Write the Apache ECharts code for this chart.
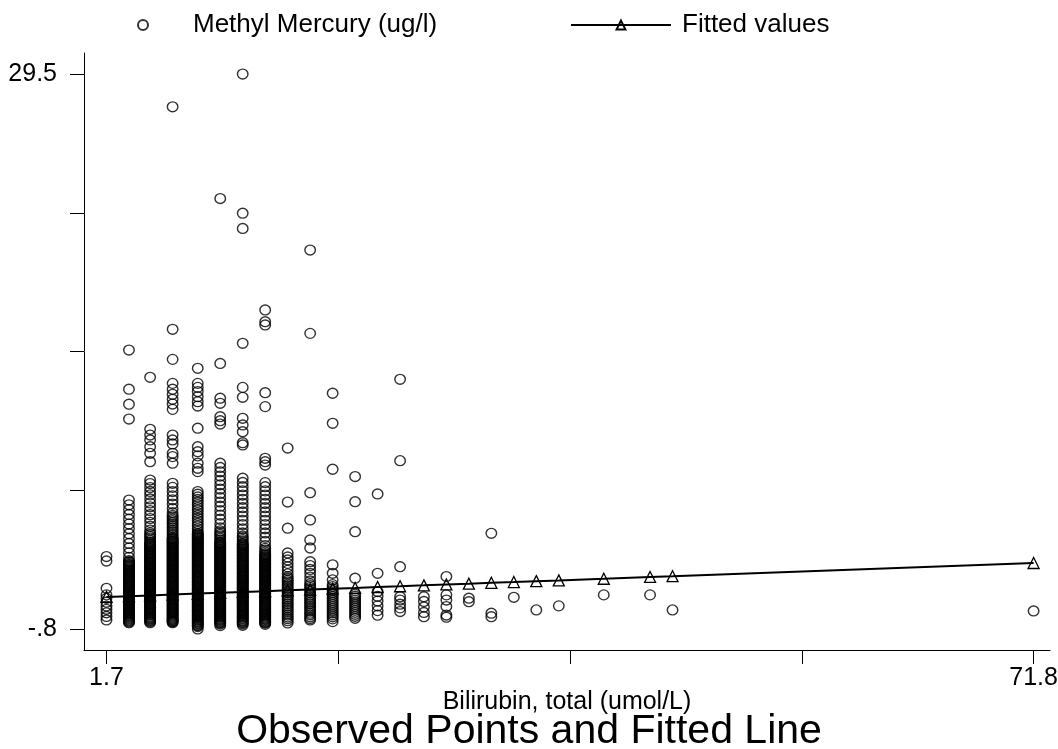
<!DOCTYPE html>
<html>
<head>
<meta charset="utf-8">
<title>Observed Points and Fitted Line</title>
<script src="https://cdn.jsdelivr.net/npm/echarts@6/dist/echarts.min.js"></script>
<style>
  html, body { margin: 0; padding: 0; background: #fff; }
  #chart { width: 1058px; height: 749px; }
</style>
</head>
<body>
<div id="chart"></div>
<script>
// Total bilirubin levels (umol/L) present in the sample
const bilirubinLevels = [1.7, 3.4, 5.0, 6.7, 8.6, 10.3, 12.0, 13.7, 15.4, 17.1, 18.8, 20.5, 22.2,
  23.9, 25.7, 27.4, 29.1, 30.8, 32.5, 34.2, 35.9, 39.3, 42.8, 44.5, 71.8];

// Methyl mercury (ug/l) observed at each bilirubin level
const mercuryAt1_7 = [3.15, 2.91, 1.42, 1.06, 0.87, 0.66, 0.45, 0.27, 0.08, -0.12, -0.31];
const mercuryAt3_4 = [14.43, 12.29, 11.47, 10.66,
  6.24, 5.98, 5.71, 5.45, 5.19, 4.93, 4.68, 4.40, 4.14, 3.87, 3.62, 3.36, 3.11,
  2.93, 2.84, 2.73, 2.64, 2.53, 2.44, 2.33, 2.24, 2.13, 2.04, 1.93, 1.84, 1.73, 1.64, 1.53,
  1.44, 1.33, 1.24, 1.13, 1.04, 0.93, 0.84, 0.73, 0.64, 0.53, 0.44, 0.33, 0.24, 0.13, 0.04,
  -0.07, -0.16, -0.27, -0.36, -0.46,
  2.88, 2.78, 2.68, 2.58, 2.48, 2.38, 2.28, 2.18, 2.08, 1.98, 1.88, 1.78, 1.68, 1.58, 1.48,
  1.38, 1.28, 1.18, 1.08, 0.98, 0.88, 0.78, 0.68, 0.58, 0.48, 0.38, 0.28, 0.18, 0.08, -0.02,
  -0.12, -0.22, -0.32, -0.42];
const mercuryAt5_0 = [12.94, 10.10, 9.79, 9.52, 9.15, 8.79, 8.33,
  7.33, 7.14, 6.92, 6.71, 6.52, 6.30, 6.08, 5.87, 5.66, 5.44, 5.23, 5.02, 4.81, 4.60,
  4.45, 4.36, 4.25, 4.16, 4.05, 3.96, 3.85, 3.76, 3.65, 3.56, 3.45, 3.36, 3.25, 3.16, 3.05,
  2.96, 2.85, 2.76, 2.65, 2.56, 2.45, 2.36, 2.25, 2.16, 2.05, 1.96, 1.85, 1.76, 1.65, 1.56,
  1.45, 1.36, 1.25, 1.16, 1.05, 0.96, 0.85, 0.76, 0.65, 0.56, 0.45, 0.36, 0.25, 0.16, 0.05,
  -0.04, -0.15, -0.24, -0.35, -0.46,
  3.90, 3.80, 3.70, 3.60, 3.50, 3.40, 3.30, 3.20, 3.10, 3.00, 2.90, 2.80, 2.70, 2.60, 2.50,
  2.40, 2.30, 2.20, 2.10, 2.00, 1.90, 1.80, 1.70, 1.60, 1.50, 1.40, 1.30, 1.20, 1.10, 1.00,
  0.90, 0.80, 0.70, 0.60, 0.50, 0.40, 0.30, 0.20, 0.10, 0.00, -0.10, -0.20, -0.30, -0.40];
const mercuryAt6_7 = [27.71, 15.56, 13.92, 12.61, 12.29, 12.01, 11.74, 11.48, 11.19, 9.79, 9.52,
  9.30, 8.79, 8.61, 8.25,
  7.15, 6.93, 6.70, 6.47, 6.25, 6.02, 5.78, 5.55,
  5.40, 5.31, 5.20, 5.11, 5.00, 4.91, 4.80, 4.71, 4.60, 4.51, 4.40, 4.31, 4.20, 4.11, 4.00,
  3.91, 3.80, 3.71, 3.60, 3.51, 3.40, 3.31, 3.20, 3.11, 3.00, 2.91, 2.80, 2.71, 2.60, 2.51,
  2.40, 2.31, 2.20, 2.11, 2.00, 1.91, 1.80, 1.71, 1.60, 1.51, 1.40, 1.31, 1.20, 1.11, 1.00,
  0.91, 0.80, 0.71, 0.60, 0.51, 0.40, 0.31, 0.20, 0.11, 0.00, -0.09, -0.20, -0.29, -0.38, -0.46,
  4.15, 4.05, 3.95, 3.85, 3.75, 3.65, 3.55, 3.45, 3.35, 3.25, 3.15, 3.05, 2.95, 2.85, 2.75,
  2.65, 2.55, 2.45, 2.35, 2.25, 2.15, 2.05, 1.95, 1.85, 1.75, 1.65, 1.55, 1.45, 1.35, 1.25,
  1.15, 1.05, 0.95, 0.85, 0.75, 0.65, 0.55, 0.45, 0.35, 0.25, 0.15, 0.05, -0.05, -0.15, -0.25,
  -0.34, -0.41];
const mercuryAt8_6 = [13.43, 12.61, 12.39, 12.16, 11.88, 11.61, 11.37, 10.16, 9.15, 8.88, 8.65,
  8.25, 7.97, 7.79,
  6.70, 6.56, 6.41, 6.27, 6.12, 5.98, 5.83, 5.69, 5.54, 5.40, 5.25, 5.11, 4.96, 4.82, 4.67, 4.53,
  4.42, 4.33, 4.22, 4.13, 4.02, 3.93, 3.82, 3.73, 3.62, 3.53, 3.42, 3.33, 3.22, 3.13, 3.02,
  2.93, 2.82, 2.73, 2.62, 2.53, 2.42, 2.33, 2.22, 2.13, 2.02, 1.93, 1.82, 1.73, 1.62, 1.53,
  1.42, 1.33, 1.22, 1.13, 1.02, 0.93, 0.82, 0.73, 0.62, 0.53, 0.42, 0.33, 0.22, 0.13, 0.02,
  -0.07, -0.18, -0.27, -0.38, -0.47, -0.58, -0.67, -0.80,
  4.38, 4.28, 4.18, 4.08, 3.98, 3.88, 3.78, 3.68, 3.58, 3.48, 3.38, 3.28, 3.18, 3.08, 2.98,
  2.88, 2.78, 2.68, 2.58, 2.48, 2.38, 2.28, 2.18, 2.08, 1.98, 1.88, 1.78, 1.68, 1.58, 1.48,
  1.38, 1.28, 1.18, 1.08, 0.98, 0.88, 0.78, 0.68, 0.58, 0.48, 0.38, 0.28, 0.18, 0.08, -0.02,
  -0.12, -0.22, -0.32, -0.42, -0.52, -0.62];
const mercuryAt10_3 = [22.70, 13.70, 11.80, 11.52, 10.79, 10.57, 10.39, 8.25,
  8.02, 7.78, 7.55, 7.31, 7.07, 6.84, 6.60, 6.37, 6.13, 5.90, 5.66, 5.42, 5.19, 4.95, 4.72,
  4.56, 4.47, 4.36, 4.27, 4.16, 4.07, 3.96, 3.87, 3.76, 3.67, 3.56, 3.47, 3.36, 3.27, 3.16,
  3.07, 2.96, 2.87, 2.76, 2.67, 2.56, 2.47, 2.36, 2.27, 2.16, 2.07, 1.96, 1.87, 1.76, 1.67,
  1.56, 1.47, 1.36, 1.27, 1.16, 1.07, 0.96, 0.87, 0.76, 0.67, 0.56, 0.47, 0.36, 0.27, 0.16,
  0.07, -0.04, -0.13, -0.24, -0.33, -0.44, -0.53, -0.62,
  3.92, 3.82, 3.72, 3.62, 3.52, 3.42, 3.32, 3.22, 3.12, 3.02, 2.92, 2.82, 2.72, 2.62, 2.52,
  2.42, 2.32, 2.22, 2.12, 2.02, 1.92, 1.82, 1.72, 1.62, 1.52, 1.42, 1.32, 1.22, 1.12, 1.02,
  0.92, 0.82, 0.72, 0.62, 0.52, 0.42, 0.32, 0.22, 0.12, 0.02, -0.08, -0.18, -0.28, -0.38, -0.48];
const mercuryAt12_0 = [29.50, 21.90, 21.07, 14.80, 12.39, 11.85, 10.70, 10.34, 9.97, 9.37, 9.25,
  7.43, 7.20, 6.97, 6.74, 6.51, 6.28, 6.05, 5.82, 5.59, 5.36, 5.13, 4.90, 4.67, 4.44,
  4.28, 4.19, 4.08, 3.99, 3.88, 3.79, 3.68, 3.59, 3.48, 3.39, 3.28, 3.19, 3.08, 2.99, 2.88,
  2.79, 2.68, 2.59, 2.48, 2.39, 2.28, 2.19, 2.08, 1.99, 1.88, 1.79, 1.68, 1.59, 1.48, 1.39,
  1.28, 1.19, 1.08, 0.99, 0.88, 0.79, 0.68, 0.59, 0.48, 0.39, 0.28, 0.19, 0.08, -0.01, -0.12,
  -0.21, -0.32, -0.41, -0.52, -0.60,
  3.84, 3.74, 3.64, 3.54, 3.44, 3.34, 3.24, 3.14, 3.04, 2.94, 2.84, 2.74, 2.64, 2.54, 2.44,
  2.34, 2.24, 2.14, 2.04, 1.94, 1.84, 1.74, 1.64, 1.54, 1.44, 1.34, 1.24, 1.14, 1.04, 0.94,
  0.84, 0.74, 0.64, 0.54, 0.44, 0.34, 0.24, 0.14, 0.04, -0.06, -0.16, -0.26, -0.36, -0.46];
const mercuryAt13_7 = [16.62, 15.98, 15.80, 12.10, 11.34, 8.52, 8.33, 8.15,
  7.19, 6.97, 6.74, 6.51, 6.28, 6.05, 5.82, 5.59, 5.36, 5.13, 4.90, 4.67, 4.44, 4.21, 3.98, 3.75,
  3.60, 3.51, 3.40, 3.31, 3.20, 3.11, 3.00, 2.91, 2.80, 2.71, 2.60, 2.51, 2.40, 2.31, 2.20,
  2.11, 2.00, 1.91, 1.80, 1.71, 1.60, 1.51, 1.40, 1.31, 1.20, 1.11, 1.00, 0.91, 0.80, 0.71,
  0.60, 0.51, 0.40, 0.31, 0.20, 0.11, 0.00, -0.09, -0.20, -0.29, -0.40, -0.48, -0.55,
  3.25, 3.15, 3.05, 2.95, 2.85, 2.75, 2.65, 2.55, 2.45, 2.35, 2.25, 2.15, 2.05, 1.95, 1.85,
  1.75, 1.65, 1.55, 1.45, 1.35, 1.25, 1.15, 1.05, 0.95, 0.85, 0.75, 0.65, 0.55, 0.45, 0.35,
  0.25, 0.15, 0.05, -0.05, -0.15, -0.25, -0.35, -0.45];
const mercuryAt15_4 = [9.08, 6.13, 4.70, 3.35, 3.13, 2.97, 2.78, 2.59, 2.40, 2.21,
  2.05, 1.96, 1.85, 1.76, 1.65, 1.56, 1.45, 1.36, 1.25, 1.16, 1.05, 0.96, 0.85, 0.76, 0.65,
  0.56, 0.45, 0.36, 0.25, 0.16, 0.05, -0.04, -0.15, -0.24, -0.35, -0.47];
const mercuryAt17_1 = [19.89, 15.34, 6.64, 5.15, 4.06, 3.62, 2.87, 2.66, 2.45, 2.24, 2.03, 1.82,
  1.66, 1.57, 1.46, 1.37, 1.26, 1.17, 1.06, 0.97, 0.86, 0.77, 0.66, 0.57, 0.46, 0.37, 0.26,
  0.17, 0.06, -0.03, -0.14, -0.23, -0.31];
const mercuryAt18_8 = [12.07, 10.43, 7.92, 2.70, 2.24, 1.88,
  1.62, 1.51, 1.40, 1.29, 1.18, 1.07, 0.96, 0.85, 0.74, 0.63, 0.52, 0.41, 0.30, 0.19, 0.08,
  -0.03, -0.14, -0.25, -0.40];
const mercuryAt20_5 = [7.52, 6.15, 4.51, 1.97,
  1.10, 0.99, 0.88, 0.77, 0.66, 0.55, 0.44, 0.33, 0.22, 0.11, 0.00, -0.11, -0.22];
const mercuryAt22_2 = [6.57, 2.24, 1.24, 0.98, 0.72, 0.46, 0.20, -0.05];
const mercuryAt23_9 = [12.83, 8.39, 2.60, 0.96, 0.78, 0.55, 0.35, 0.15];
const mercuryAt25_7 = [0.96, 0.70, 0.40, 0.10, -0.13];
const mercuryAt27_4 = [2.06, 1.06, 0.78, 0.42, -0.04, -0.16];
const mercuryAt29_1 = [0.88, 0.69];
const mercuryAt30_8 = [4.42, 0.06, -0.13];
const mercuryAt32_5 = [0.93];
const mercuryAt34_2 = [0.24];
const mercuryAt35_9 = [0.46];
const mercuryAt39_3 = [1.06];
const mercuryAt42_8 = [1.06];
const mercuryAt44_5 = [0.24];
const mercuryAt71_8 = [0.18];

const mercuryByLevel = [mercuryAt1_7, mercuryAt3_4, mercuryAt5_0, mercuryAt6_7, mercuryAt8_6,
  mercuryAt10_3, mercuryAt12_0, mercuryAt13_7, mercuryAt15_4, mercuryAt17_1, mercuryAt18_8,
  mercuryAt20_5, mercuryAt22_2, mercuryAt23_9, mercuryAt25_7, mercuryAt27_4, mercuryAt29_1,
  mercuryAt30_8, mercuryAt32_5, mercuryAt34_2, mercuryAt35_9, mercuryAt39_3, mercuryAt42_8,
  mercuryAt44_5, mercuryAt71_8];

// Linear fit of methyl mercury on bilirubin, one value per bilirubin level
const fittedValues = [0.95, 0.99, 1.03, 1.08, 1.13, 1.17, 1.22, 1.26, 1.31, 1.35, 1.40, 1.44,
  1.49, 1.53, 1.58, 1.63, 1.67, 1.72, 1.76, 1.81, 1.85, 1.94, 2.04, 2.08, 2.80];

// Axis ticks and labels
const xTickValues = [1.7, 19.225, 36.75, 54.275, 71.8];
const xLabelValues = [1.7, 71.8];
const xLabelTexts = ['1.7', '71.8'];
const yTickValues = [-0.8, 6.775, 14.35, 21.925, 29.5];
const yLabelValues = [-0.8, 29.5];
const yLabelTexts = ['-.8', '29.5'];

const observedPoints = [];
bilirubinLevels.forEach(function (x, i) {
  mercuryByLevel[i].forEach(function (y) { observedPoints.push([x, y]); });
});
const fittedPoints = bilirubinLevels.map(function (x, i) { return [x, fittedValues[i]]; });

function labelFor(values, texts) {
  return function (v) {
    for (let i = 0; i < values.length; i++) {
      if (Math.abs(values[i] - v) < 1e-9) return texts[i];
    }
    return '';
  };
}

const FONT = 'Liberation Sans';
const INK = '#000';

const chart = echarts.init(document.getElementById('chart'), null, { renderer: 'canvas' });
chart.setOption({
  animation: false,
  backgroundColor: '#fff',
  textStyle: { fontFamily: FONT, color: INK },
  title: {
    text: 'Observed Points and Fitted Line',
    left: 'center',
    top: 711,
    padding: 0,
    textStyle: { fontFamily: FONT, fontSize: 41, fontWeight: 'normal', color: INK, lineHeight: 41 }
  },
  legend: [
    {
      data: ['Methyl Mercury (ug/l)'],
      left: 137, top: 12, padding: 0,
      itemWidth: 90, itemHeight: 10,
      selectedMode: false,
      textStyle: { fontFamily: FONT, fontSize: 26, color: INK, lineHeight: 26 }
    },
    {
      data: ['Fitted values'],
      left: 570, top: 12, padding: 0,
      itemWidth: 100, itemHeight: 11,
      selectedMode: false,
      textStyle: { fontFamily: FONT, fontSize: 26, color: INK, lineHeight: 26, padding: [0, 0, 0, 6] }
    }
  ],
  grid: { left: 84, right: 8, top: 53, bottom: 99, containLabel: false, outerBoundsMode: 'none' },
  xAxis: {
    type: 'value',
    min: 0,
    max: 73.04,
    name: 'Bilirubin, total (umol/L)',
    nameLocation: 'middle',
    nameGap: 40,
    nameMoveOverlap: false,
    nameTextStyle: { fontFamily: FONT, fontSize: 25, color: INK, lineHeight: 25 },
    axisLine: { show: true, onZero: false, lineStyle: { color: INK, width: 1 } },
    axisTick: { show: true, length: 14, customValues: xTickValues, lineStyle: { color: INK, width: 1 } },
    axisLabel: {
      customValues: xLabelValues, margin: 16, fontFamily: FONT, fontSize: 25, color: INK,
      formatter: labelFor(xLabelValues, xLabelTexts)
    },
    splitLine: { show: false }
  },
  yAxis: {
    type: 'value',
    min: -1.95,
    max: 30.65,
    axisLine: { show: true, onZero: false, lineStyle: { color: INK, width: 1 } },
    axisTick: { show: true, length: 14, customValues: yTickValues, lineStyle: { color: INK, width: 1 } },
    axisLabel: {
      customValues: yLabelValues, margin: 27, fontFamily: FONT, fontSize: 25, color: INK,
      formatter: labelFor(yLabelValues, yLabelTexts)
    },
    splitLine: { show: false }
  },
  series: [
    {
      name: 'Methyl Mercury (ug/l)',
      type: 'scatter',
      data: observedPoints,
      symbol: 'circle',
      symbolSize: [10.5, 9.9],
      silent: true,
      itemStyle: { color: 'rgba(0,0,0,0)', borderColor: INK, borderWidth: 1.4 },
      z: 2
    },
    {
      name: 'Fitted values',
      type: 'line',
      data: fittedPoints,
      symbol: 'triangle',
      symbolSize: 11,
      showSymbol: true,
      silent: true,
      lineStyle: { color: INK, width: 2 },
      itemStyle: { color: 'rgba(0,0,0,0)', borderColor: INK, borderWidth: 1.3 },
      z: 3
    }
  ]
});
</script>
</body>
</html>
